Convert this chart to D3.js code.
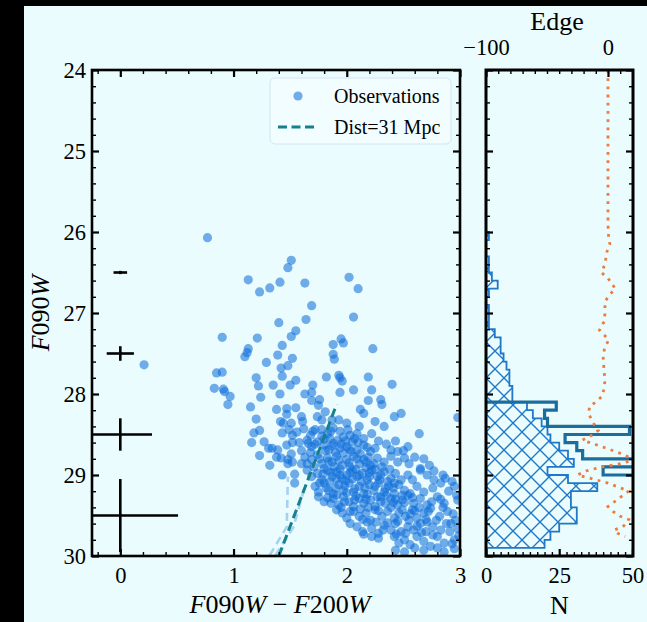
<!DOCTYPE html>
<html><head><meta charset="utf-8">
<script src="https://cdn.jsdelivr.net/npm/d3@7"></script>
<style>body{margin:0;background:#eafcfd;} svg{display:block}</style>
</head><body>
<svg id="chart" width="647" height="622"></svg>
<script>
// ---------------- data ----------------
const obsColor = [
0.77,0.21,1.51,1.48,1.13,1.41,1.63,1.32,1.23,2.02,2.10,1.69,1.64,2.06,1.40,1.55,1.51,0.90,1.21,1.95,
1.97,1.88,1.43,2.23,1.13,1.12,1.10,1.39,1.52,1.88,1.89,1.29,1.48,1.42,0.85,0.90,1.43,1.20,1.82,1.93,
1.94,1.96,2.19,1.55,0.83,1.22,1.35,1.50,1.70,2.06,2.40,0.91,0.92,0.97,1.24,1.41,1.63,1.69,1.94,2.22,
1.69,1.76,1.75,2.19,2.30,2.31,0.95,1.15,1.38,1.47,1.55,1.47,1.60,1.81,2.12,2.15,2.48,2.42,2.98,1.20,
1.415,1.44,1.51,1.61,1.74,1.78,1.87,1.93,2.00,2.25,
1.18,1.23,1.43,1.49,1.52,1.65,1.68,1.72,1.78,1.83,1.88,1.94,1.97,2.03,2.09,2.15,2.22,2.33,2.64,
1.16,1.27,1.31,1.47,1.52,1.51,1.66,1.69,1.74,1.80,1.84,1.88,1.94,2.00,2.05,2.09,2.15,2.21,2.25,2.39,2.45,2.54,
1.23,1.34,1.39,1.38,1.42,1.48,1.48,1.52,1.60,1.65,1.69,1.74,1.78,1.83,1.87,1.91,1.96,2.00,2.06,2.11,2.15,2.21,2.27,2.33,2.39,2.45,2.51,2.55,2.65,2.73,
1.32,1.43,1.54,1.65,1.69,1.74,1.78,1.83,1.87,1.91,1.96,2.00,2.05,2.09,2.14,2.18,2.22,2.27,2.33,2.39,2.43,2.48,2.54,2.58,2.65,2.71,2.77,2.87,
1.54,1.72,1.75,1.80,1.84,1.88,1.93,1.97,2.02,2.06,2.11,2.15,2.20,2.24,2.28,2.33,2.37,2.42,2.46,2.51,2.56,2.62,2.68,2.76,2.83,2.95,
1.75,1.80,1.86,1.88,1.93,1.97,2.02,2.06,2.11,2.15,2.21,2.25,2.30,2.34,2.39,2.45,2.49,2.54,2.59,2.65,2.71,2.80,2.86,2.98,
1.91,1.96,2.00,2.06,2.11,2.17,2.21,2.25,2.31,2.36,2.42,2.46,2.52,2.58,2.62,2.68,2.74,2.82,2.89,2.96,
2.03,2.09,2.14,2.18,2.22,2.28,2.33,2.39,2.43,2.48,2.54,2.59,2.65,2.70,2.76,2.83,2.92,2.98,
2.15,2.22,2.28,2.42,2.46,2.51,2.56,2.62,2.68,2.74,2.80,2.86,2.95,2.43,2.51,2.68,2.86,2.95,
1.78,1.85,1.92,1.99,2.07,1.81,1.90,1.97,2.04,2.12,2.19,1.71,1.80,1.89,1.94,2.03,2.08,2.17,2.25,2.31,
1.76,1.85,1.91,1.99,2.05,2.13,2.20,2.29,2.36,2.42,1.83,1.91,2.00,2.08,2.18,2.27,2.35,2.43,2.51,2.58,
1.95,2.03,2.12,2.19,2.28,2.39,2.49,2.56,2.64,2.72,2.14,2.26,2.36,2.45,2.55,2.62,2.71,2.79,2.88,2.32,
2.44,2.52,2.66,2.76,2.91,2.60,2.80,2.93,1.68,1.60,1.63,1.58,1.56,1.62,1.70,1.72,1.86,2.01,2.11,2.28,
2.35,2.43,2.50,2.60,2.68,2.77,2.85,2.93,2.97,2.90,2.83,2.75,
1.80,1.87,1.95,2.02,2.10,2.18,1.76,1.84,1.93,2.02,2.09,2.17,2.24,1.79,1.86,1.94,2.03,2.11,2.20,2.30,
2.38,1.82,1.90,1.98,2.07,2.16,2.25,2.34,2.41,2.49,1.98,2.07,2.17,2.30,2.41,2.60,2.70,2.85,2.94,2.99
];
const obsMag = [
26.07,27.64,26.35,26.44,26.59,26.62,26.63,26.69,26.74,26.56,26.70,26.91,27.08,27.05,27.12,27.22,27.29,27.30,27.31,27.32,
27.37,27.39,27.40,27.44,27.44,27.49,27.54,27.52,27.56,27.51,27.57,27.61,27.65,27.68,27.74,27.73,27.78,27.80,27.79,27.77,
27.80,27.84,27.79,27.83,27.93,27.90,27.89,27.89,27.89,27.95,27.88,27.94,27.97,28.03,28.04,28.00,28.00,27.98,27.98,27.95,
28.08,28.07,28.14,28.08,28.07,28.13,28.13,28.16,28.19,28.18,28.17,28.25,28.28,28.22,28.19,28.24,28.24,28.28,28.29,28.31,
28.34,28.36,28.36,28.34,28.28,28.32,28.32,28.32,28.36,28.34,
28.48,28.45,28.48,28.44,28.51,28.57,28.51,28.44,28.44,28.49,28.42,28.46,28.53,28.51,28.49,28.55,28.49,28.40,28.49,
28.60,28.59,28.67,28.63,28.60,28.74,28.61,28.65,28.59,28.63,28.69,28.61,28.67,28.65,28.59,28.69,28.63,28.71,28.67,28.69,28.71,28.65,
28.76,28.67,28.69,28.78,28.79,28.81,28.86,28.84,28.86,28.86,28.81,28.75,28.86,28.79,28.84,28.77,28.88,28.81,28.77,28.86,28.81,28.88,28.79,28.84,28.77,28.84,28.79,28.86,28.92,28.88,
28.88,29.00,28.99,28.94,29.02,28.98,29.06,28.94,29.02,28.96,29.04,29.00,28.94,29.02,28.98,29.06,28.94,29.02,28.96,29.04,28.98,29.06,29.00,29.06,28.94,29.00,29.06,29.04,
29.10,29.14,29.21,29.10,29.19,29.23,29.12,29.19,29.10,29.21,29.14,29.23,29.12,29.19,29.10,29.21,29.14,29.23,29.12,29.19,29.23,29.14,29.21,29.16,29.10,29.14,
29.27,29.33,29.35,29.29,29.37,29.27,29.33,29.39,29.29,29.35,29.31,29.39,29.27,29.35,29.29,29.37,29.31,29.25,29.35,29.29,29.37,29.27,29.35,29.31,
29.43,29.47,29.53,29.45,29.51,29.47,29.56,29.43,29.51,29.45,29.53,29.47,29.51,29.43,29.53,29.47,29.41,29.51,29.45,29.56,
29.60,29.64,29.70,29.58,29.66,29.72,29.62,29.68,29.60,29.70,29.64,29.68,29.60,29.70,29.64,29.68,29.60,29.66,
29.73,29.76,29.78,29.76,29.84,29.80,29.86,29.76,29.82,29.88,29.76,29.84,29.80,29.93,29.95,29.93,29.95,29.91,
28.52,28.55,28.57,28.58,28.55,28.70,28.72,28.73,28.71,28.74,28.78,28.90,28.92,28.90,28.93,28.90,28.93,28.91,28.93,28.90,
29.10,29.08,29.05,29.07,29.05,29.08,29.02,29.06,29.08,29.10,29.28,29.25,29.22,29.26,29.24,29.27,29.25,29.30,29.34,29.28,
29.40,29.45,29.42,29.40,29.44,29.40,29.43,29.48,29.40,29.45,29.55,29.58,29.59,29.57,29.56,29.63,29.58,29.56,29.60,29.68,
29.73,29.72,29.71,29.74,29.70,29.90,29.90,29.85,28.72,28.70,28.78,28.60,28.47,28.43,28.46,28.62,28.46,28.44,28.40,28.58,
28.62,28.58,28.70,28.78,28.80,28.95,29.00,29.08,29.25,29.20,29.30,29.33,
28.56,28.64,28.62,28.68,28.60,28.66,28.80,28.83,28.82,28.85,28.80,28.84,28.86,28.99,28.97,29.00,28.97,29.00,28.97,29.00,
28.93,29.16,29.16,29.13,29.17,29.16,29.14,29.17,29.16,29.25,29.33,29.31,29.30,29.33,29.34,29.44,29.55,29.40,29.48,29.75
];

// representative uncertainties (errorbars at colour 0)
const errMag    = [26.5, 27.5, 28.5, 29.5];
const errColor  = [0, 0, 0, 0];
const errXsize  = [0.06, 0.12, 0.28, 0.51];
const errYsize  = [0.02, 0.09, 0.20, 0.45];

// distance model lines
const distColor = [1.40, 1.91];
const distMag   = [30.0, 28.13];
const isoAColor = [1.32, 1.47, 1.48];
const isoAMag   = [29.99, 29.64, 29.02];
const isoBColor = [1.37, 1.53, 1.63];
const isoBMag   = [29.99, 29.64, 29.14];

// luminosity function histogram (bin starts, width 0.1 mag)
const histBins = [26.0,26.1,26.2,26.3,26.4,26.5,26.6,26.7,26.8,26.9,27.0,27.1,27.2,27.3,27.4,27.5,27.6,27.7,27.8,27.9,
                  28.0,28.1,28.2,28.3,28.4,28.5,28.6,28.7,28.8,28.9,29.0,29.1,29.2,29.3,29.4,29.5,29.6,29.7,29.8];
const histCounts = [1,0,0,1,1,2,4,1,0,1,1,1,3,5,5,6,7,8,8,9,
                    9,14,16,19,21,22,25,28,30,21,28,38,29,29,31,31,25,22,20];
const stepBins   = [28.1,28.2,28.3,28.4,28.5,28.6,28.7,28.8,28.9,29.0];
const stepCounts = [24,20,21,49,27,31,33,53,40,53];

// edge-detection response
const edgeMag = [24.0,24.5,25.0,25.5,25.9,26.05,26.15,26.25,26.4,26.5,26.57,26.7,26.78,26.86,27.0,27.1,27.21,27.33,27.45,27.54,
                 27.65,27.74,27.84,27.95,28.03,28.1,28.15,28.24,28.3,28.36,28.45,28.5,28.57,28.65,28.72,28.81,28.86,28.9,28.95,29.0,
                 29.05,29.1,29.2,29.3,29.39,29.45,29.51,29.55,29.6,29.64,29.68,29.72,29.76];
const edgeVal = [0,0,0,0,0,0.5,1.5,-1,-2.5,-5.5,0,6,1,-2.5,-2.5,-3,-7,0.5,-3,-4,
                 -3.5,-3,-2.5,-3.5,-5,-10,-15,-16,-14,-12,-8,-12,-21,-5,8,22,10,-5,-18,-25,
                 -12,0,17,8,0,4,10,17,15,12,5,8,14];

// ticks
const xTicks = [0,1,2,3];
const yTicks = [24,25,26,27,28,29,30];
const nTicks = [0,25,50];
const edgeTicks = [-100,0];

// ---------------- drawing ----------------
const W = 647, H = 622;
const FONT = "'Liberation Serif','Times New Roman',serif";
const TFS = 22.5;
const svg = d3.select("#chart");
svg.append("rect").attr("width",W).attr("height",H).attr("fill","#eafcfd");
svg.append("rect").attr("x",0).attr("y",0).attr("width",24).attr("height",H).attr("fill","#000");
svg.append("rect").attr("x",0).attr("y",0).attr("width",W).attr("height",6).attr("fill","#000");

const L = {x0:92, x1:460, y0:70, y1:556};
const R = {x0:486, x1:633, y0:70, y1:556};

const x = d3.scaleLinear().domain([-0.25,3]).range([L.x0,L.x1]);
const y = d3.scaleLinear().domain([24,30]).range([L.y0,L.y1]);
const n = d3.scaleLinear().domain([0,50.2]).range([R.x0,R.x1]);
const e = d3.scaleLinear().domain([-100,20.5]).range([R.x0,R.x1]);

const defs = svg.append("defs");
defs.append("clipPath").attr("id","clipL").append("rect")
  .attr("x",L.x0).attr("y",L.y0).attr("width",L.x1-L.x0).attr("height",L.y1-L.y0);
defs.append("clipPath").attr("id","clipR").append("rect")
  .attr("x",R.x0).attr("y",R.y0).attr("width",R.x1-R.x0).attr("height",R.y1-R.y0);
const pat = defs.append("pattern").attr("id","hatch").attr("patternUnits","userSpaceOnUse")
  .attr("width",18).attr("height",18).attr("x",R.x0).attr("y",0);
pat.append("path").attr("d","M-4,-4L22,22M22,-4L-4,22")
  .attr("stroke","#1f78c8").attr("stroke-width",1.4).attr("fill","none");

function minors(dom, step, majors){
  const out=[]; const k0=Math.ceil(dom[0]/step-1e-9), k1=Math.floor(dom[1]/step+1e-9);
  for(let k=k0;k<=k1;k++){const v=+(k*step).toFixed(5); if(!majors.some(m=>Math.abs(m-v)<1e-6)) out.push(v);}
  return out;
}

// ----- left panel -----
const gL = svg.append("g");
const plotL = gL.append("g").attr("clip-path","url(#clipL)");
const PTC = "rgb(12,108,218)", PTO = 0.56, PTR = 4.6;

plotL.selectAll("circle.obs").data(obsColor.map((c,i)=>({c, m:obsMag[i]})))
  .join("circle").attr("class","obs")
  .attr("cx",d=>x(d.c)).attr("cy",d=>y(d.m)).attr("r",PTR)
  .attr("fill",PTC).attr("fill-opacity",PTO);

const line = d3.line();
function drawLine(cs, ms, color, w, dash, op){
  plotL.append("path").attr("d", line(cs.map((c,i)=>[x(c), y(ms[i])])))
    .attr("fill","none").attr("stroke",color).attr("stroke-width",w)
    .attr("stroke-dasharray",dash).attr("stroke-opacity",op);
}
drawLine(isoAColor, isoAMag, "#9fcdf0", 2.6, "8,5", 0.9);
drawLine(isoBColor, isoBMag, "#9fcdf0", 2.6, "8,5", 0.9);
drawLine(distColor, distMag, "#16808c", 3, "9,4.5", 1);

// error bars
errMag.forEach((m,i)=>{
  const c = errColor[i];
  plotL.append("line").attr("x1",x(c-errXsize[i])).attr("x2",x(c+errXsize[i]))
    .attr("y1",y(m)).attr("y2",y(m)).attr("stroke","#000").attr("stroke-width",2.6);
  plotL.append("line").attr("x1",x(c)).attr("x2",x(c))
    .attr("y1",y(m-errYsize[i])).attr("y2",y(m+errYsize[i])).attr("stroke","#000").attr("stroke-width",2.6);
});

function styleAxis(g, fs){
  g.select(".domain").remove();
  g.selectAll("text").attr("font-family",FONT).attr("font-size",fs).attr("fill","#000");
}
const MAJ=7, MIN=4;
const xMinor = minors([-0.25,3],0.2,xTicks);
const yMinor = minors([24,30],0.2,yTicks);

// bottom
let a = gL.append("g").attr("transform",`translate(0,${L.y1})`)
  .call(d3.axisBottom(x).tickValues(xTicks).tickSizeInner(-MAJ).tickSizeOuter(0).tickPadding(11).tickFormat(d3.format("d")));
styleAxis(a,TFS); a.selectAll("line").attr("stroke-width",2.2);
a = gL.append("g").attr("transform",`translate(0,${L.y1})`)
  .call(d3.axisBottom(x).tickValues(xMinor).tickSizeInner(-MIN).tickSizeOuter(0).tickFormat(""));
styleAxis(a,TFS); a.selectAll("line").attr("stroke-width",1.4);
// top
a = gL.append("g").attr("transform",`translate(0,${L.y0})`)
  .call(d3.axisTop(x).tickValues(xTicks).tickSizeInner(-MAJ).tickSizeOuter(0).tickFormat(""));
styleAxis(a,TFS); a.selectAll("line").attr("stroke-width",2.2);
a = gL.append("g").attr("transform",`translate(0,${L.y0})`)
  .call(d3.axisTop(x).tickValues(xMinor).tickSizeInner(-MIN).tickSizeOuter(0).tickFormat(""));
styleAxis(a,TFS); a.selectAll("line").attr("stroke-width",1.4);
// left
a = gL.append("g").attr("transform",`translate(${L.x0},0)`)
  .call(d3.axisLeft(y).tickValues(yTicks).tickSizeInner(-MAJ).tickSizeOuter(0).tickPadding(6).tickFormat(d3.format("d")));
styleAxis(a,TFS); a.selectAll("line").attr("stroke-width",2.2);
a = gL.append("g").attr("transform",`translate(${L.x0},0)`)
  .call(d3.axisLeft(y).tickValues(yMinor).tickSizeInner(-MIN).tickSizeOuter(0).tickFormat(""));
styleAxis(a,TFS); a.selectAll("line").attr("stroke-width",1.4);
// right
a = gL.append("g").attr("transform",`translate(${L.x1},0)`)
  .call(d3.axisRight(y).tickValues(yTicks).tickSizeInner(-MAJ).tickSizeOuter(0).tickFormat(""));
styleAxis(a,TFS); a.selectAll("line").attr("stroke-width",2.2);
a = gL.append("g").attr("transform",`translate(${L.x1},0)`)
  .call(d3.axisRight(y).tickValues(yMinor).tickSizeInner(-MIN).tickSizeOuter(0).tickFormat(""));
styleAxis(a,TFS); a.selectAll("line").attr("stroke-width",1.4);

gL.append("rect").attr("x",L.x0).attr("y",L.y0).attr("width",L.x1-L.x0).attr("height",L.y1-L.y0)
  .attr("fill","none").attr("stroke","#000").attr("stroke-width",2.6);

// legend
const lg = gL.append("g");
lg.append("rect").attr("x",270).attr("y",78).attr("width",181).attr("height",66).attr("rx",5)
  .attr("fill","#f2fcfe").attr("fill-opacity",0.8).attr("stroke","#d3e6ef").attr("stroke-width",1);
lg.append("circle").attr("cx",298).attr("cy",96).attr("r",PTR).attr("fill",PTC).attr("fill-opacity",PTO);
lg.append("text").attr("x",334).attr("y",103).text("Observations")
  .attr("font-family",FONT).attr("font-size",20);
lg.append("line").attr("x1",278).attr("x2",318).attr("y1",127).attr("y2",127)
  .attr("stroke","#16808c").attr("stroke-width",3).attr("stroke-dasharray","9,4.5");
lg.append("text").attr("x",334).attr("y",134).text("Dist=31 Mpc")
  .attr("font-family",FONT).attr("font-size",20);

// axis labels left panel
const xl = gL.append("text").attr("x",(L.x0+L.x1)/2+4).attr("y",613).attr("text-anchor","middle")
  .attr("font-family",FONT).attr("font-size",26);
[["F",true],["090",false],["W",true],[" \u2212 ",false],["F",true],["200",false],["W",true]]
  .forEach(([t,it])=>xl.append("tspan").text(t).attr("font-style",it?"italic":"normal"));
const yl = gL.append("text").attr("transform",`translate(49,${(L.y0+L.y1)/2}) rotate(-90)`)
  .attr("text-anchor","middle").attr("font-family",FONT).attr("font-size",26);
[["F",true],["090",false],["W",true]]
  .forEach(([t,it])=>yl.append("tspan").text(t).attr("font-style",it?"italic":"normal"));

// ----- right panel -----
const gR = svg.append("g");
const plotR = gR.append("g").attr("clip-path","url(#clipR)");

function stepPts(bins, counts){
  const pts=[[n(0), y(bins[0])]];
  bins.forEach((b,i)=>{ pts.push([n(counts[i]), y(b)]); pts.push([n(counts[i]), y(b+0.1)]); });
  return pts;
}
const hp = stepPts(histBins, histCounts);
hp.push([n(0), y(histBins[histBins.length-1]+0.1)]);
plotR.append("path").attr("d", line(hp)+"Z").attr("fill","url(#hatch)").attr("stroke","#1f78c8")
  .attr("stroke-width",1.8).attr("stroke-linejoin","miter");

const sp = stepPts(stepBins, stepCounts);
plotR.append("path").attr("d", line(sp)).attr("fill","none").attr("stroke","#1a6d9c")
  .attr("stroke-width",3.2);

plotR.append("path").attr("d", line(edgeMag.map((m,i)=>[e(edgeVal[i]), y(m)])))
  .attr("fill","none").attr("stroke","#ee7b3e").attr("stroke-width",2.8)
  .attr("stroke-dasharray","2.8,5.4");

const nMinor = minors([0,50.2],2.5,nTicks);
const eMinor = minors([-100,20.5],10,edgeTicks);
a = gR.append("g").attr("transform",`translate(0,${R.y1})`)
  .call(d3.axisBottom(n).tickValues(nTicks).tickSizeInner(-MAJ).tickSizeOuter(0).tickPadding(11).tickFormat(d3.format("d")));
styleAxis(a,TFS); a.selectAll("line").attr("stroke-width",2.2);
a = gR.append("g").attr("transform",`translate(0,${R.y1})`)
  .call(d3.axisBottom(n).tickValues(nMinor).tickSizeInner(-MIN).tickSizeOuter(0).tickFormat(""));
styleAxis(a,TFS); a.selectAll("line").attr("stroke-width",1.4);
a = gR.append("g").attr("transform",`translate(0,${R.y0})`)
  .call(d3.axisTop(e).tickValues(edgeTicks).tickSizeInner(-MAJ).tickSizeOuter(0).tickPadding(15).tickFormat(d3.format("d")));
styleAxis(a,TFS); a.selectAll("line").attr("stroke-width",2.2);
a = gR.append("g").attr("transform",`translate(0,${R.y0})`)
  .call(d3.axisTop(e).tickValues(eMinor).tickSizeInner(-MIN).tickSizeOuter(0).tickFormat(""));
styleAxis(a,TFS); a.selectAll("line").attr("stroke-width",1.4);
[[R.x0, d3.axisLeft],[R.x1, d3.axisRight]].forEach(([px, fn])=>{
  a = gR.append("g").attr("transform",`translate(${px},0)`)
    .call(fn(y).tickValues(yTicks).tickSizeInner(-MAJ).tickSizeOuter(0).tickFormat(""));
  styleAxis(a,TFS); a.selectAll("line").attr("stroke-width",2.2);
  a = gR.append("g").attr("transform",`translate(${px},0)`)
    .call(fn(y).tickValues(yMinor).tickSizeInner(-MIN).tickSizeOuter(0).tickFormat(""));
  styleAxis(a,TFS); a.selectAll("line").attr("stroke-width",1.4);
});
gR.append("rect").attr("x",R.x0).attr("y",R.y0).attr("width",R.x1-R.x0).attr("height",R.y1-R.y0)
  .attr("fill","none").attr("stroke","#000").attr("stroke-width",3);

gR.append("text").attr("x",(R.x0+R.x1)/2).attr("y",614).attr("text-anchor","middle")
  .attr("font-family",FONT).attr("font-size",26).text("N");
gR.append("text").attr("x",557).attr("y",30).attr("text-anchor","middle")
  .attr("font-family",FONT).attr("font-size",26).text("Edge");
</script>
</body></html>
